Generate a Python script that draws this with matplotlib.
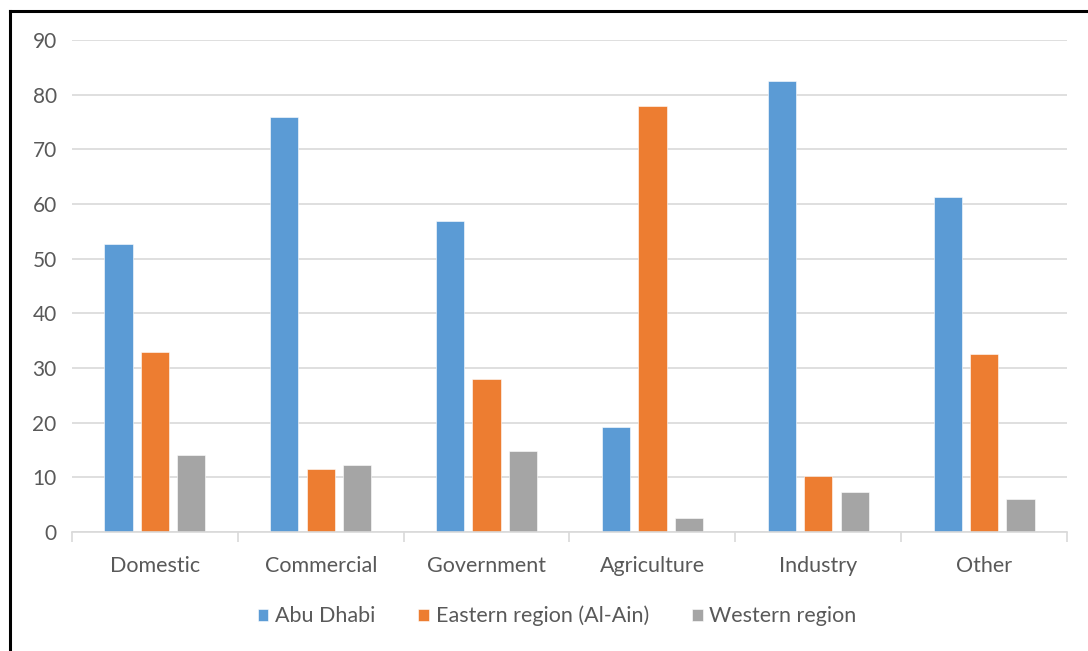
import matplotlib
matplotlib.use("Agg")
import matplotlib.pyplot as plt
from matplotlib.lines import Line2D
import numpy as np

categories = ["Domestic", "Commercial", "Government", "Agriculture", "Industry", "Other"]
series_names = ["Abu Dhabi", "Eastern region (Al-Ain)", "Western region"]
abu_dhabi = [52.6, 75.9, 56.9, 19.2, 82.5, 61.3]
eastern = [32.9, 11.6, 28.0, 78.0, 10.2, 32.5]
western = [14.1, 12.3, 14.9, 2.6, 7.4, 6.0]
y_ticks = [0, 10, 20, 30, 40, 50, 60, 70, 80, 90]

colors = ["#5b9bd5", "#ed7d31", "#a5a5a5"]
text_gray = "#595959"
grid_gray = "#d9d9d9"

plt.rcParams["font.family"] = ["Lato", "DejaVu Sans"]

fig = plt.figure(figsize=(10.88, 6.51), dpi=100, facecolor="white")
W, H = 1088, 651
ax = fig.add_axes([72 / W, 1 - 532 / H, (1067 - 72) / W, (532 - 40) / H])

x = np.arange(len(categories))
width = 0.17
step = 0.22
for k, (vals, name) in enumerate(zip([abu_dhabi, eastern, western], series_names)):
    ax.bar(x + (k - 1) * step, vals, width, color=colors[k], label=name,
           edgecolor="white", linewidth=0.4, zorder=3)

ax.set_xlim(-0.5, len(categories) - 0.5)
ax.set_ylim(0, 90)
ax.set_yticks(y_ticks)
ax.yaxis.grid(True, color=grid_gray, linewidth=1.2, zorder=0)
ax.tick_params(axis="y", length=0, pad=11, labelsize=15, labelcolor=text_gray)

# category labels centred, tick marks on the group boundaries
ax.set_xticks(x)
ax.set_xticklabels(categories)
ax.tick_params(axis="x", which="major", length=0, pad=17, labelsize=15.5, labelcolor=text_gray)
ax.set_xticks(np.arange(-0.5, len(categories)), minor=True)
ax.tick_params(axis="x", which="minor", length=7, width=1.2, color=grid_gray)

for side in ["left", "top", "right"]:
    ax.spines[side].set_visible(False)
ax.spines["bottom"].set_color(grid_gray)
ax.spines["bottom"].set_linewidth(1.2)
ax.spines["bottom"].set_zorder(4)

leg = fig.legend(loc="center", bbox_to_anchor=(557 / W, 1 - 616 / H), ncol=3,
                 frameon=False, fontsize=15.5, labelcolor=text_gray,
                 handlelength=0.5, handleheight=0.5, handletextpad=0.3,
                 columnspacing=2.0)

# frame line on the left and top edges
fig.add_artist(Line2D([10 / W, 10 / W], [0, 1 - 11 / H], color="black", linewidth=2.2))
fig.add_artist(Line2D([10 / W, 1], [1 - 11 / H, 1 - 11 / H], color="black", linewidth=2.2))

fig.savefig("out.png", dpi=100, facecolor="white")
